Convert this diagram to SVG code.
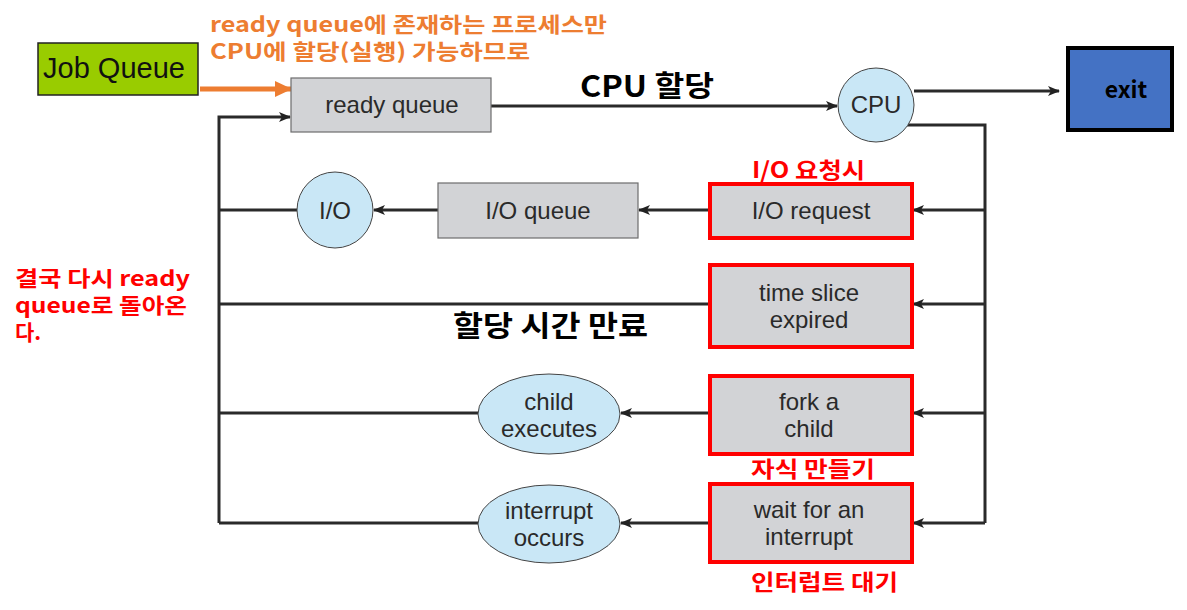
<svg xmlns="http://www.w3.org/2000/svg" width="1187" height="610" viewBox="0 0 1187 610">
<defs>
<marker id="ah" markerWidth="12" markerHeight="10" refX="11" refY="5" orient="auto" markerUnits="userSpaceOnUse">
<path d="M0,0 L12,5 L0,10 L3,5 Z" fill="#222"/>
</marker>
<marker id="ahO" markerWidth="17" markerHeight="16" refX="16" refY="8" orient="auto" markerUnits="userSpaceOnUse">
<path d="M0,0 L17,8 L0,16 Z" fill="#ed7d31"/>
</marker>
</defs>
<style>
.ln{stroke:#2a2a2a;stroke-width:3;fill:none}
.arr{marker-end:url(#ah)}
.box{fill:#d2d3d6;stroke:#6d6d6d;stroke-width:1.2}
.rbox{fill:#d2d3d6;stroke:#ff0000;stroke-width:4}
.circ{fill:#c9e7f6;stroke:#444;stroke-width:1}
.t{font-family:"Liberation Sans",Arial,sans-serif;font-size:24px;fill:#2a2a2a;text-anchor:middle}
.k{font-family:"Noto Sans CJK KR",sans-serif;font-weight:bold}
.red{fill:#ff0000;font-size:22px}
.org{fill:#ed7d31;font-size:21px}
.blk{fill:#000;font-size:29px}
</style>
<rect width="1187" height="610" fill="#fff"/>

<g id="connectors">
<line x1="200" y1="89" x2="291" y2="89" stroke="#ed7d31" stroke-width="5" marker-end="url(#ahO)"/>
<polyline class="ln arr" points="219,523 219,117 290,117"/>
<line class="ln arr" x1="491" y1="106" x2="837" y2="106"/>
<line class="ln arr" x1="914" y1="91" x2="1059" y2="91"/>
<polyline class="ln" points="907,125 985,125 985,523"/>
<line class="ln arr" x1="985" y1="210" x2="913" y2="210"/>
<line class="ln arr" x1="985" y1="304" x2="913" y2="304"/>
<line class="ln arr" x1="985" y1="413" x2="913" y2="413"/>
<line class="ln arr" x1="985" y1="523" x2="913" y2="523"/>
<line class="ln arr" x1="709" y1="210" x2="639" y2="210"/>
<line class="ln arr" x1="438" y1="210" x2="374" y2="210"/>
<line class="ln" x1="297" y1="210" x2="219" y2="210"/>
<line class="ln" x1="709" y1="304" x2="219" y2="304"/>
<line class="ln arr" x1="709" y1="413" x2="621" y2="413"/>
<line class="ln" x1="478" y1="413" x2="219" y2="413"/>
<line class="ln arr" x1="709" y1="523" x2="621" y2="523"/>
<line class="ln" x1="478" y1="523" x2="219" y2="523"/>
</g>

<g id="job-queue">
<rect x="38" y="43" width="160" height="52" fill="#99cc00" stroke="#222" stroke-width="1.5"/>
<text class="t" x="114" y="78" style="font-size:29px;fill:#111">Job Queue</text>
</g>

<g id="ready-queue">
<rect class="box" x="291" y="78" width="200" height="54"/>
<text class="t" x="392" y="113">ready queue</text>
</g>

<g id="cpu">
<ellipse class="circ" cx="876" cy="105" rx="38" ry="37"/>
<text class="t" x="876" y="113">CPU</text>
</g>

<g id="exit">
<rect x="1068" y="48" width="104" height="82" fill="#4472c4" stroke="#000" stroke-width="4"/>
<text x="1126" y="98" text-anchor="middle" style="font-family:'Noto Sans CJK KR',sans-serif;font-weight:bold;font-size:23px;fill:#000">exit</text>
</g>

<g id="io-request">
<rect class="rbox" x="710" y="184" width="202" height="54"/>
<text class="t" x="811" y="219">I/O request</text>
</g>

<g id="io-queue">
<rect class="box" x="438" y="183" width="200" height="55"/>
<text class="t" x="538" y="219">I/O queue</text>
</g>

<g id="io">
<circle class="circ" cx="335" cy="210" r="38"/>
<text class="t" x="335" y="219">I/O</text>
</g>

<g id="time-slice">
<rect class="rbox" x="710" y="265" width="202" height="82"/>
<text class="t" x="809" y="301">time slice</text>
<text class="t" x="809" y="328">expired</text>
</g>

<g id="fork">
<rect class="rbox" x="710" y="376" width="202" height="78"/>
<text class="t" x="809" y="410">fork a</text>
<text class="t" x="809" y="437">child</text>
</g>

<g id="child-executes">
<ellipse class="circ" cx="549" cy="414" rx="71" ry="40"/>
<text class="t" x="549" y="410">child</text>
<text class="t" x="549" y="437">executes</text>
</g>

<g id="wait">
<rect class="rbox" x="710" y="484" width="202" height="78"/>
<text class="t" x="809" y="518">wait for an</text>
<text class="t" x="809" y="545">interrupt</text>
</g>

<g id="interrupt-occurs">
<ellipse class="circ" cx="549" cy="524" rx="71" ry="39"/>
<text class="t" x="549" y="519">interrupt</text>
<text class="t" x="549" y="546">occurs</text>
</g>

<g id="annotations">
<text class="k org" x="210" y="32" textLength="397" lengthAdjust="spacingAndGlyphs">ready queue에 존재하는 프로세스만</text>
<text class="k org" x="210" y="59" textLength="320" lengthAdjust="spacingAndGlyphs">CPU에 할당(실행) 가능하므로</text>
<text class="k blk" x="580" y="97" textLength="134" lengthAdjust="spacingAndGlyphs">CPU 할당</text>
<text class="k red" x="752" y="178" textLength="113" lengthAdjust="spacingAndGlyphs">I/O 요청시</text>
<text class="k blk" x="453" y="337" textLength="195" lengthAdjust="spacingAndGlyphs">할당 시간 만료</text>
<text class="k red" x="751" y="477" textLength="124" lengthAdjust="spacingAndGlyphs">자식 만들기</text>
<text class="k red" x="751" y="590" textLength="147" lengthAdjust="spacingAndGlyphs">인터럽트 대기</text>
<text class="k red" x="15" y="286" style="font-size:21px" textLength="175" lengthAdjust="spacingAndGlyphs">결국 다시 ready</text>
<text class="k red" x="15" y="313" style="font-size:21px" textLength="172" lengthAdjust="spacingAndGlyphs">queue로 돌아온</text>
<text class="k red" x="15" y="340" style="font-size:21px">다.</text>
</g>
</svg>
